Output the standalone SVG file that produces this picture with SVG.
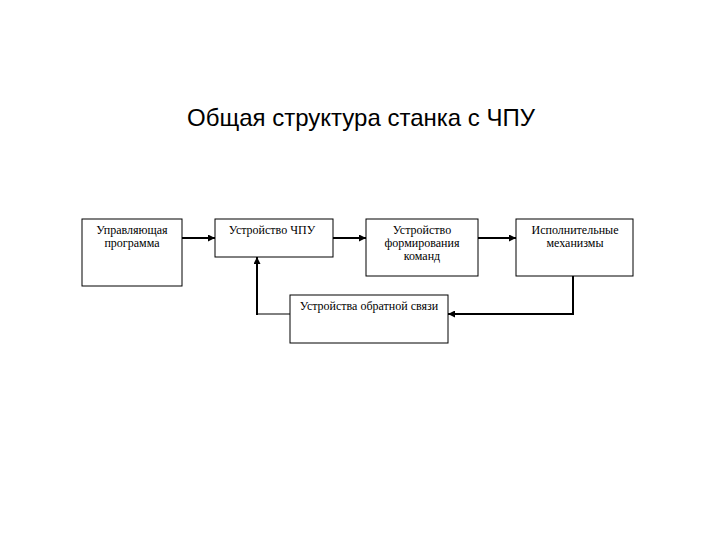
<svg xmlns="http://www.w3.org/2000/svg" width="720" height="540" viewBox="0 0 720 540">
<style>
.box{fill:#fff;stroke:#000;stroke-width:1}
.t{font-family:"Liberation Serif","Times New Roman",serif;font-size:12px;fill:#000;text-anchor:middle}
.title{font-family:"Liberation Sans",Arial,sans-serif;font-size:24px;fill:#000;text-anchor:middle}
.c{fill:none;stroke:#000;stroke-width:2}
.c1{fill:none;stroke:#000;stroke-width:1}
</style>
<defs>
<marker id="ah" viewBox="0 0 6 6" refX="6" refY="3" markerWidth="3.5" markerHeight="3.5" markerUnits="strokeWidth" orient="auto">
<path d="M0,0 L6,3 L0,6 Z" fill="#000"/>
</marker>
</defs>
<rect width="720" height="540" fill="#fff"/>
<text class="title" x="361" y="126">Общая структура станка с ЧПУ</text>
<g id="connectors">
<line class="c" x1="182" y1="238" x2="215" y2="238" marker-end="url(#ah)"/>
<line class="c" x1="333" y1="238" x2="366" y2="238" marker-end="url(#ah)"/>
<line class="c" x1="478" y1="238" x2="516" y2="238" marker-end="url(#ah)"/>
<polyline class="c" points="573,276 573,314 448,314" marker-end="url(#ah)"/>
<line class="c1" x1="290" y1="314" x2="257" y2="314"/>
<line class="c" x1="257" y1="315" x2="257" y2="257" marker-end="url(#ah)"/>
</g>
<g id="node1">
<rect class="box" x="82" y="219" width="100" height="67"/>
<text class="t" x="132" y="234">Управляющая</text>
<text class="t" x="132" y="247">программа</text>
</g>
<g id="node2">
<rect class="box" x="215" y="219" width="118" height="38"/>
<text class="t" x="272" y="234">Устройство ЧПУ</text>
</g>
<g id="node3">
<rect class="box" x="366" y="219" width="112" height="57"/>
<text class="t" x="422" y="234">Устройство</text>
<text class="t" x="422" y="247">формирования</text>
<text class="t" x="422" y="260">команд</text>
</g>
<g id="node4">
<rect class="box" x="516" y="219" width="117" height="57"/>
<text class="t" x="575" y="234">Исполнительные</text>
<text class="t" x="575" y="247">механизмы</text>
</g>
<g id="node5">
<rect class="box" x="290" y="295" width="158" height="48"/>
<text class="t" x="369" y="310">Устройства обратной связи</text>
</g>
</svg>
